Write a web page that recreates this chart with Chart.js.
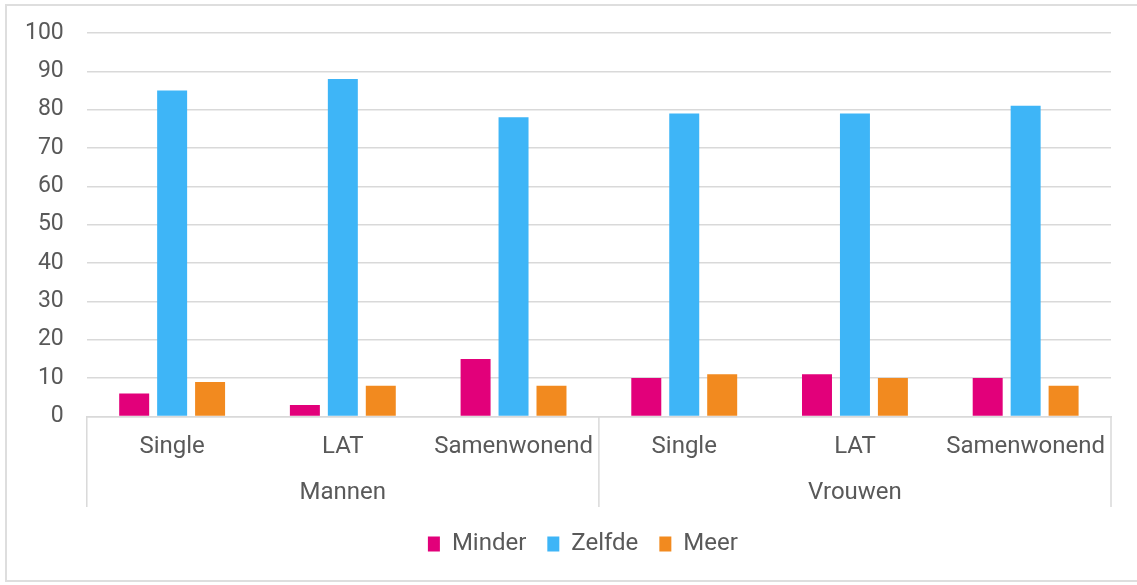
<!DOCTYPE html>
<html>
<head>
<meta charset="utf-8">
<script src="https://cdn.jsdelivr.net/npm/chart.js@4.4.1/dist/chart.umd.min.js"></script>
<style>
  html, body { margin: 0; padding: 0; background: #fff; overflow: hidden; }
  #frame { position: absolute; left: 5px; top: 4px; width: 1140px; height: 574px; border: 2px solid #dedede; }
  #wrap { position: absolute; left: 0; top: 0; width: 1137px; height: 585px; }
</style>
</head>
<body>
<div id="frame"></div>
<div id="wrap"><canvas id="chart"></canvas></div>
<script>
// two level x axis: relation type within sex
const subCategories = ["Single", "LAT", "Samenwonend", "Single", "LAT", "Samenwonend"];
const groups = ["Mannen", "Vrouwen"];
const seriesNames = ["Minder", "Zelfde", "Meer"];

const minder = [6, 3, 15, 10, 11, 10];
const zelfde = [85, 88, 78, 79, 79, 81];
const meer = [9, 8, 8, 11, 10, 8];

const yTicks = { min: 0, max: 100, step: 10 };

const textColor = "#595959";
const lineColor = "#d9d9d9";

// vertical separators of the group axis
const groupLines = {
  id: "groupLines",
  afterLayout(chart) {
    // legend sits a bit left of the plot centre in the original
    chart.legend.left -= 16;
    chart.legend.right -= 16;
  },
  afterDraw(chart) {
    const x = chart.scales.x;
    const x2 = chart.scales.x2;
    const ctx = chart.ctx;
    const mid = (x2.getPixelForValue(0) + x2.getPixelForValue(1)) / 2;
    const xs = [x2.left, mid, x2.right];
    ctx.save();
    ctx.strokeStyle = lineColor;
    ctx.lineWidth = 1.5;
    xs.forEach((px) => {
      ctx.beginPath();
      ctx.moveTo(px, x.top);
      ctx.lineTo(px, x2.bottom - 4);
      ctx.stroke();
    });
    ctx.restore();
  },
};

new Chart(document.getElementById("chart"), {
  type: "bar",
  data: {
    labels: subCategories,
    datasets: [
      { label: seriesNames[0], data: minder, backgroundColor: "#e2007a" },
      { label: seriesNames[1], data: zelfde, backgroundColor: "#3eb5f7" },
      { label: seriesNames[2], data: meer, backgroundColor: "#f28a1f" },
    ],
  },
  options: {
    responsive: true,
    maintainAspectRatio: false,
    animation: false,
    layout: { padding: { top: 33, left: 2, right: 26, bottom: 19 } },
    datasets: {
      bar: { categoryPercentage: 0.667, barPercentage: 0.79 },
    },
    plugins: {
      tooltip: { enabled: false },
      legend: {
        position: "bottom",
        fullSize: false,
        labels: {
          boxWidth: 12,
          boxHeight: 15,
          padding: 21,
          color: textColor,
          font: { family: "Roboto", size: 24 },
        },
      },
    },
    scales: {
      x: {
        grid: { display: false, drawTicks: false },
        border: { display: true, color: lineColor, width: 1.5 },
        ticks: {
          color: textColor,
          font: { family: "Roboto", size: 24 },
          padding: 16,
          maxRotation: 0,
          autoSkip: false,
        },
      },
      x2: {
        type: "category",
        position: "bottom",
        labels: groups,
        offset: true,
        grid: { display: false, drawTicks: false },
        border: { display: false },
        ticks: {
          color: textColor,
          font: { family: "Roboto", size: 24 },
          padding: 1,
          maxRotation: 0,
        },
        afterFit: (scale) => {
          scale.height += 3;
        },
      },
      y: {
        min: yTicks.min,
        max: yTicks.max,
        border: { display: false },
        grid: { color: lineColor, lineWidth: 1.5, drawTicks: false },
        ticks: {
          stepSize: yTicks.step,
          color: textColor,
          font: { family: "Roboto", size: 23 },
          padding: 23,
        },
        afterFit: (scale) => {
          scale.paddingTop = 0;
        },
      },
    },
  },
  plugins: [groupLines],
});
</script>
</body>
</html>
